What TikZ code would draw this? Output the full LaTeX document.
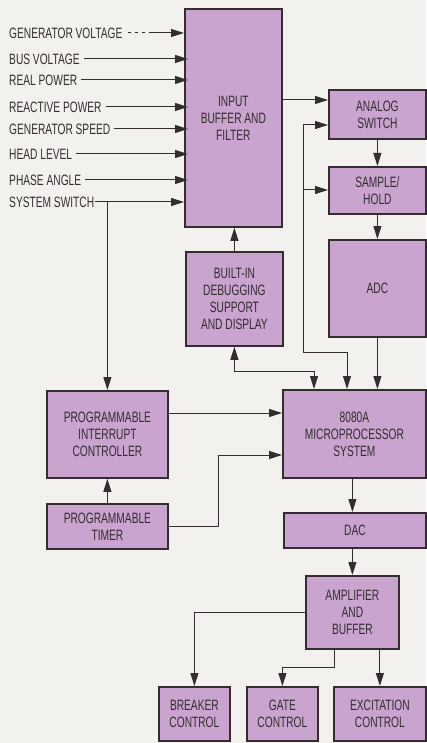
\documentclass[tikz,border=0pt]{standalone}
\usepackage{fontspec}
\setmainfont{Liberation Sans}[FakeStretch=0.68]
\usetikzlibrary{arrows.meta}
\definecolor{boxfill}{RGB}{200,164,206}
\definecolor{ink}{RGB}{52,44,48}
\definecolor{paper}{RGB}{243,241,238}
\tikzset{
  blk/.style={draw=ink, line width=1.8pt, fill=boxfill, anchor=north west,
    align=center, inner sep=0pt, text=ink, font=\fontsize{15}{17}\selectfont},
  lbl/.style={anchor=west, inner sep=0pt, text=ink, font=\fontsize{15}{17}\selectfont},
  wire/.style={draw=ink, line width=1pt},
  arr/.style={wire, -{Triangle[length=13pt,width=8pt]}},
  arrb/.style={wire, {Triangle[length=13pt,width=8pt]}-{Triangle[length=13pt,width=8pt]}},
}
\begin{document}
\begin{tikzpicture}[x=1pt,y=-1pt]
\fill[paper] (0,0) rectangle (426,743);
\useasboundingbox (0,0) rectangle (426,743);

% boxes
\node[blk, minimum width=97pt, minimum height=218pt] (inp) at (184,8) {INPUT\\BUFFER AND\\FILTER};
\node[blk, minimum width=97pt, minimum height=94pt] (dbg) at (185,251) {BUILT-IN\\DEBUGGING\\SUPPORT\\AND DISPLAY};
\node[blk, minimum width=97pt, minimum height=49pt] (asw) at (328,89) {ANALOG\\SWITCH};
\node[blk, minimum width=97pt, minimum height=47pt] (sh) at (328,166) {SAMPLE/\\HOLD};
\node[blk, minimum width=97pt, minimum height=97pt] (adc) at (328,239) {ADC};
\node[blk, minimum width=143pt, minimum height=88pt] (cpu) at (282,389) {8080A\\MICROPROCESSOR\\SYSTEM};
\node[blk, minimum width=121pt, minimum height=87pt] (pic) at (46,390) {PROGRAMMABLE\\INTERRUPT\\CONTROLLER};
\node[blk, minimum width=121pt, minimum height=45pt] (tmr) at (46,503) {PROGRAMMABLE\\TIMER};
\node[blk, minimum width=142pt, minimum height=35pt] (dac) at (283,512) {DAC};
\node[blk, minimum width=93pt, minimum height=73pt] (amp) at (305,575) {AMPLIFIER\\AND\\BUFFER};
\node[blk, minimum width=71pt, minimum height=54pt] (brk) at (158,686) {BREAKER\\CONTROL};
\node[blk, minimum width=71pt, minimum height=54pt] (gate) at (246,686) {GATE\\CONTROL};
\node[blk, minimum width=92pt, minimum height=54pt] (exc) at (333,686) {EXCITATION\\CONTROL};

% input labels
\node[lbl] (l1) at (9,33) {GENERATOR VOLTAGE};
\node[lbl] (l2) at (9,59) {BUS VOLTAGE};
\node[lbl] (l3) at (9,80) {REAL POWER};
\node[lbl] (l4) at (9,107) {REACTIVE POWER};
\node[lbl] (l5) at (9,129) {GENERATOR SPEED};
\node[lbl] (l6) at (9,154) {HEAD LEVEL};
\node[lbl] (l7) at (9,180) {PHASE ANGLE};
\node[lbl] (l8) at (9,202) {SYSTEM SWITCH};

\coordinate (g1) at ([xshift=5pt]l1.east);
\coordinate (g1b) at (150,33);
\draw[wire, dash pattern=on 3pt off 4pt] (g1) -- (g1b);
\draw[arr] (g1b) -- (g1b -| inp.west);
\foreach \n in {l2,l3,l4,l5,l6,l7}{
  \draw[arr] ([xshift=4pt]\n.east) -- ([xshift=4pt]\n.east -| inp.west);
}
\draw[arr] ([xshift=1pt]l8.east) -- (l8.east -| inp.west);

% helper coordinates
\coordinate (y100) at (0,100);
\coordinate (bA) at (303,125);
\coordinate (y190) at (0,190);
\coordinate (bB) at (303,352);
\coordinate (x347) at (347,0);
\coordinate (dB) at (0,371);
\coordinate (x314) at (314,0);
\coordinate (y413) at (0,413);
\coordinate (tk) at (218,455);
\coordinate (x334) at (334,0);
\coordinate (y667) at (0,667);

% connectors
\draw[arr] (inp.east |- y100) -- (asw.west |- y100);
\draw[arr] (bA) -- (bA -| asw.west);
\draw[arr] (bA |- y190) -- (sh.west |- y190);
\draw[arr] (bA) -- (bB) -| (cpu.north -| x347);
\draw[arr] (asw.south) -- (sh.north);
\draw[arr] (sh.south) -- (adc.north);
\draw[arr] (adc.south) -- (adc.south |- cpu.north);
\draw[arr] (dbg.north) -- (dbg.north |- inp.south);
\draw[arrb] (dbg.south) -- (dbg.south |- dB) -| (cpu.north -| x314);
\draw[arr] (pic.north |- l8.east) -- (pic.north);
\draw[arr] (tmr.north) -- (pic.south);
\draw[arr] (pic.east |- y413) -- (cpu.west |- y413);
\draw[arr] (tmr.east) -| (tk) -- (tk -| cpu.west);
\draw[arr] (amp.north |- cpu.south) -- (amp.north |- dac.north);
\draw[arr] (amp.north |- dac.south) -- (amp.north);
\draw[arr] (amp.west) -| (brk.north);
\draw[arr] (x334 |- amp.south) -- (x334 |- y667) -| (gate.north);
\draw[arr] (exc.north |- amp.south) -- (exc.north);
\end{tikzpicture}
\end{document}
